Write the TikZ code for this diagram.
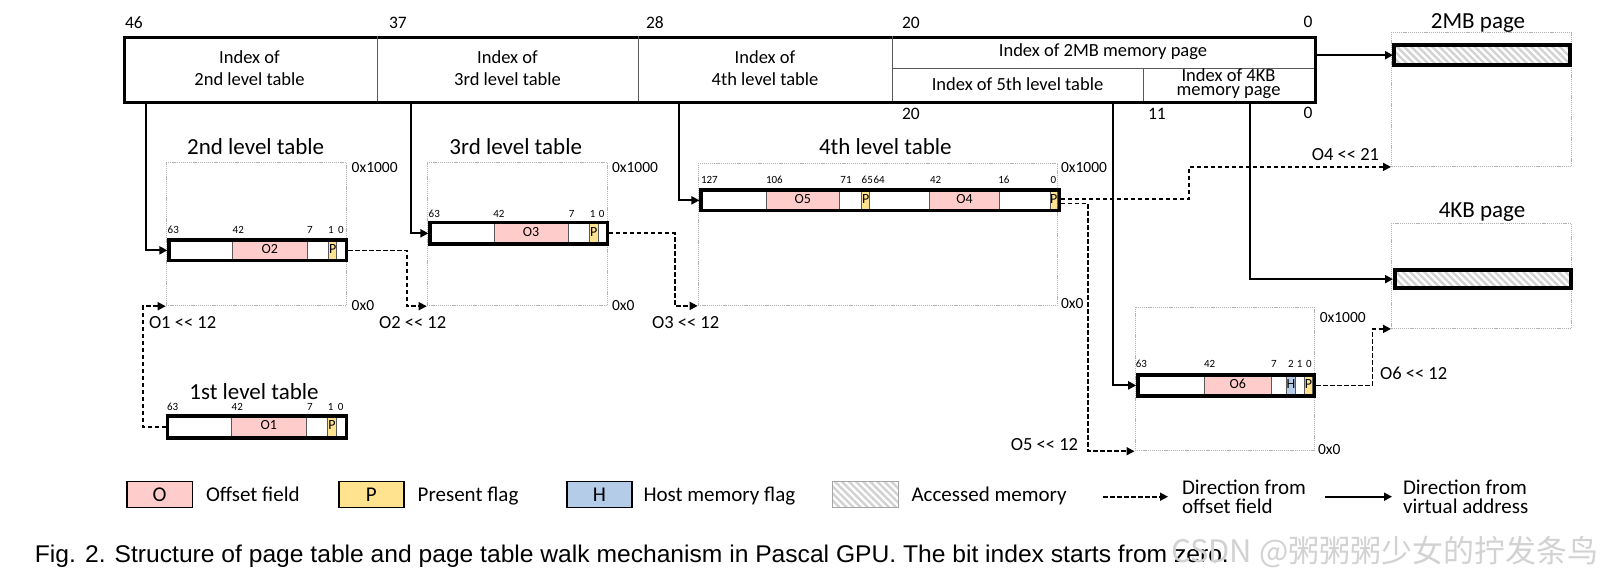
\documentclass[tikz,border=0pt]{standalone}
\usepackage{fontspec}
\setmainfont{Carlito}
\newfontfamily\capfont{Liberation Sans}
\newfontfamily\cjkfont{Noto Sans CJK SC}
\usetikzlibrary{arrows.meta,patterns.meta}
\definecolor{opink}{HTML}{FFCCCC}
\definecolor{pyellow}{HTML}{FFE38F}
\definecolor{hblue}{HTML}{B4CCE8}
\definecolor{fline}{HTML}{595959}
\newcommand\fsz[1]{\fontsize{#1}{#1}\selectfont}
\newcommand\LL{<\kern0pt<}
\tikzset{
 lbl/.style={inner sep=0pt, outer sep=0pt, text depth=0pt},
 thickrect/.style={draw=black, line width=3.3pt, inner sep=0pt, anchor=north west},
 memrect/.style={draw=gray!60, line width=0.9pt, dash pattern=on 1.2pt off 0.9pt, inner sep=0pt, anchor=north west},
 hatchrect/.style={thickrect, line width=4pt, pattern={Lines[angle=-45,distance=5pt,line width=2.4pt]}, pattern color=gray!35},
 fieldl/.style={draw=fline, line width=0.9pt},
 divl/.style={draw=fline, line width=1pt},
 sarr/.style={draw=black, line width=2pt, -{Triangle[length=8pt,width=8pt]}},
 darr/.style={draw=black, line width=1.7pt, dash pattern=on 4.5pt off 2.5pt, -{Triangle[length=8pt,width=8pt]}},
 legbox/.style={draw=black, line width=1.8pt, inner sep=0pt, minimum width=65.5pt, minimum height=26pt, font=\fsz{21}, text height=13.5pt, text depth=0pt},
}
% name, style, x1, y1, x2, y2
\newcommand\rnode[6]{\node[#2, minimum width={(#5)-(#3)}, minimum height={(#6)-(#4)}] (#1) at (#3,#4) {};}
% name, anchor, x, y, size, text
\newcommand\tx[6]{\node[lbl, text height={0.645*#5pt}, anchor=#2, font=\fsz{#5}] (#1) at (#3,#4) {#6};}
% x1, x2, y1, y2, colour, text, name
\newcommand\fld[7]{\draw[fieldl, fill=#5] (#1,#3) rectangle (#2,#4);
 \node[lbl, text height=9pt, font=\fsz{14}] (#7) at ({(#1+#2)/2},{(#3+#4)/2}) {#6};}
\begin{document}
\begin{tikzpicture}[x=1pt,y=-1pt]
\useasboundingbox[fill=white] (0,0) rectangle (1607,573);

% ---------------- virtual address ----------------
\rnode{addr}{thickrect}{122.7}{36}{1314}{101}
\draw[divl] (377,36) -- (377,101);
\draw[divl] (638,36) -- (638,101);
\draw[divl] (892,36) -- (892,101);
\draw[divl] (892,68) -- (1314,68);
\draw[divl] (1143,68) -- (1143,101);
\tx{a1}{center}{249.5}{58}{18.5}{Index of}
\tx{a1b}{center}{249.5}{79.7}{18.5}{2nd level table}
\tx{a2}{center}{507.5}{58}{18.5}{Index of}
\tx{a2b}{center}{507.5}{79.7}{18.5}{3rd level table}
\tx{a3}{center}{765}{58}{18.5}{Index of}
\tx{a3b}{center}{765}{79.7}{18.5}{4th level table}
\tx{a4}{center}{1103}{50.7}{18.5}{Index of 2MB memory page}
\tx{a5}{center}{1017.5}{84.7}{18.5}{Index of 5th level table}
\tx{a6}{center}{1228.5}{75.2}{18.5}{Index of 4KB}
\tx{a6b}{center}{1228.5}{89.3}{18.5}{memory page}
\tx{n46}{west}{125}{23}{17.5}{46}
\tx{n37}{west}{389}{23}{17.5}{37}
\tx{n28}{west}{646}{23}{17.5}{28}
\tx{n20}{west}{902}{23}{17.5}{20}
\tx{n0}{center}{1308}{22}{17.5}{0}
\tx{m20}{west}{902}{114}{17.5}{20}
\tx{m11}{west}{1148}{114}{17.5}{11}
\tx{m0}{center}{1308}{113}{17.5}{0}

% ---------------- memory areas ----------------
\rnode{t2}{memrect}{165.7}{162.3}{345.7}{305.3}
\rnode{t3}{memrect}{426.7}{162.3}{606.7}{305.3}
\rnode{t4}{memrect}{697.7}{162.7}{1057.3}{305}
\rnode{t5}{memrect}{1134.5}{306.5}{1313.5}{450.3}
\rnode{m2}{memrect}{1391}{32}{1571}{166}
\rnode{m4}{memrect}{1391}{223}{1571}{328}

\tx{tt2}{center}{255.7}{146.7}{23}{2nd level table}
\tx{tt3}{center}{515.7}{146.7}{23}{3rd level table}
\tx{tt4}{center}{885.3}{146.7}{23}{4th level table}
\tx{tt1}{center}{254}{391.7}{23}{1st level table}
\tx{tm2}{center}{1478}{21}{23}{2MB page}
\tx{tm4}{center}{1482}{210}{23}{4KB page}

\tx{h2}{west}{351.7}{167.7}{15.5}{0x1000}
\tx{l2}{west}{351.7}{305}{15.5}{0x0}
\tx{h3}{west}{612}{167.7}{15.5}{0x1000}
\tx{l3}{west}{612}{305}{15.5}{0x0}
\tx{h4}{west}{1061}{167}{15.5}{0x1000}
\tx{l4}{west}{1061}{303.3}{15.5}{0x0}
\tx{h5}{west}{1319.8}{317.7}{15.5}{0x1000}
\tx{l5}{west}{1318}{449}{15.5}{0x0}

% ---------------- 1st level entry ----------------
\fld{231.7}{306}{414.4}{436.3}{opink}{O1}{f1o}
\fld{327.7}{336.3}{414.4}{436.3}{pyellow}{P}{f1p}
\rnode{b1}{thickrect}{166}{414.4}{344.6}{436.3}
\tx{k1a}{west}{167}{406.7}{11}{63}
\tx{k1b}{west}{231.7}{406.7}{11}{42}
\tx{k1c}{center}{310}{406.7}{11}{7}
\tx{k1d}{center}{330.7}{406.7}{11}{1}
\tx{k1e}{center}{340.7}{406.7}{11}{0}

% ---------------- 2nd level entry ----------------
\fld{232.7}{307}{238.4}{259}{opink}{O2}{f2o}
\fld{328.7}{336.7}{238.4}{259}{pyellow}{P}{f2p}
\rnode{b2}{thickrect}{167.4}{238.4}{345}{259}
\tx{k2a}{west}{167.7}{230}{11}{63}
\tx{k2b}{west}{232.7}{230}{11}{42}
\tx{k2c}{center}{310}{230}{11}{7}
\tx{k2d}{center}{331}{230}{11}{1}
\tx{k2e}{center}{341}{230}{11}{0}

% ---------------- 3rd level entry ----------------
\fld{494}{568.3}{221}{242.3}{opink}{O3}{f3o}
\fld{589.3}{598}{221}{242.3}{pyellow}{P}{f3p}
\rnode{b3}{thickrect}{428.4}{221}{605.6}{242.3}
\tx{k3a}{west}{428.7}{214.3}{11}{63}
\tx{k3b}{west}{493.3}{214.3}{11}{42}
\tx{k3c}{center}{571.7}{214.3}{11}{7}
\tx{k3d}{center}{592.7}{214.3}{11}{1}
\tx{k3e}{center}{601.7}{214.3}{11}{0}

% ---------------- 4th level entry ----------------
\fld{766}{839.7}{188.4}{209}{opink}{O5}{f4o5}
\fld{861.7}{869.7}{188.4}{209}{pyellow}{P}{f4p1}
\fld{929.7}{999.3}{188.4}{209}{opink}{O4}{f4o4}
\fld{1050}{1057.6}{188.4}{209}{pyellow}{P}{f4p0}
\rnode{b4}{thickrect}{699.4}{188.4}{1057.6}{209}
\tx{k4a}{west}{701}{180.3}{11}{127}
\tx{k4b}{west}{766}{180.3}{11}{106}
\tx{k4c}{center}{846}{180.3}{11}{71}
\tx{k4d}{west}{861.7}{180.3}{11}{65}
\tx{k4e}{west}{873.5}{180.3}{11}{64}
\tx{k4f}{west}{930}{180.3}{11}{42}
\tx{k4g}{west}{998.3}{180.3}{11}{16}
\tx{k4h}{center}{1053.3}{180.3}{11}{0}

% ---------------- 5th level entry ----------------
\fld{1204.5}{1271}{373.2}{394.3}{opink}{O6}{f5o}
\fld{1286.5}{1295.3}{373.2}{394.3}{hblue}{H}{f5h}
\fld{1304.3}{1312.7}{373.2}{394.3}{pyellow}{P}{f5p}
\rnode{b5}{thickrect}{1136.2}{373.2}{1312.7}{394.3}
\tx{k5a}{west}{1135.8}{364}{11}{63}
\tx{k5b}{west}{1204}{364}{11}{42}
\tx{k5c}{center}{1274}{364}{11}{7}
\tx{k5d}{center}{1291}{364}{11}{2}
\tx{k5e}{center}{1299.6}{364}{11}{1}
\tx{k5f}{center}{1309}{364}{11}{0}

% ---------------- accessed memory ----------------
\rnode{g2}{hatchrect}{1393}{44}{1569}{64}
\rnode{g4}{hatchrect}{1393}{268}{1569}{286.3}

% ---------------- solid connectors ----------------
\coordinate (v1) at (145.7,101);
\coordinate (v2) at (410.7,101);
\coordinate (v3) at (679,101);
\coordinate (v4) at (1112.7,101);
\coordinate (v5) at (1250,101);
\draw[sarr] (v1) |- (b2.west);
\draw[sarr] (v2) |- (b3.west);
\draw[sarr] (v3) |- (b4.west);
\draw[sarr] (v4) |- (b5.west);
\draw[sarr] (v5) |- (g4.west);
\draw[sarr] (g2.west -| addr.east) -- (g2.west);

% ---------------- dashed connectors ----------------
\draw[darr] (b1.west) -- ++(-23,0) |- (t2.south west);
\draw[darr] (b2.east) -| ([xshift=-20pt]t3.south west) -- (t3.south west);
\draw[darr] (b3.east) -| ([xshift=-22.5pt]t4.south west) -- (t4.south west);
\draw[darr] ([yshift=1.4pt]b4.east) -| ([xshift=-202pt]m2.south west) -- (m2.south west);
\draw[darr] ([yshift=-3pt]b4.east) -| ([xshift=-46.3pt]t5.south west) -- (t5.south west);
\draw[darr] (b5.east) -| ([xshift=-18.5pt]m4.south west) -- (m4.south west);

\tx{o1}{west}{149}{322.7}{18.5}{O1 \LL\ 12}
\tx{o2}{west}{379}{322.7}{18.5}{O2 \LL\ 12}
\tx{o3}{west}{652}{322.7}{18.5}{O3 \LL\ 12}
\tx{o4}{east}{1379}{155}{18.5}{O4 \LL\ 21}
\tx{o5}{east}{1078}{444.3}{18.5}{O5 \LL\ 12}
\tx{o6}{west}{1380}{373.3}{18.5}{O6 \LL\ 12}

% ---------------- legend ----------------
\node[legbox, fill=opink] (lg1) at (159.65,494.5) {O};
\node[legbox, fill=pyellow] (lg2) at (371.35,494.5) {P};
\node[legbox, fill=hblue] (lg3) at (599.5,494.5) {H};
\node[legbox, draw=gray!70, line width=1.2pt, pattern={Lines[angle=-45,distance=5pt,line width=2.4pt]}, pattern color=gray!35] (lg4) at (865.5,494.5) {};
\tx{lt1}{west}{206}{494.5}{21}{Offset field}
\tx{lt2}{west}{417.7}{494.5}{21}{Present flag}
\tx{lt3}{west}{643.5}{494.5}{21}{Host memory flag}
\tx{lt4}{west}{911.5}{494.5}{21}{Accessed memory}
\coordinate (ld1) at (1103,496.7);
\coordinate (ld2) at (1168,496.7);
\draw[darr] (ld1) -- (ld2);
\tx{lt5}{west}{1182}{487.5}{21}{Direction from}
\tx{lt5b}{west}{1182}{507}{21}{offset field}
\coordinate (ls1) at (1325,496.7);
\coordinate (ls2) at (1392,496.7);
\draw[sarr] (ls1) -- (ls2);
\tx{lt6}{west}{1403}{487.5}{21}{Direction from}
\tx{lt6b}{west}{1403}{507}{21}{virtual address}

% ---------------- caption ----------------
\node[anchor=base west, inner sep=0pt] (cap) at (34.7,562)
 {\resizebox{1194pt}{17.5pt}{\capfont\fsz{24}Fig. 2. Structure of page table and page table walk mechanism in Pascal GPU. The bit index starts from zero.}};
\node[anchor=west, inner sep=0pt, text=gray!35] (wm) at (1171,552)
 {\resizebox{427pt}{!}{\cjkfont\fsz{30}CSDN @粥粥粥少女的拧发条鸟}};
\end{tikzpicture}
\end{document}
